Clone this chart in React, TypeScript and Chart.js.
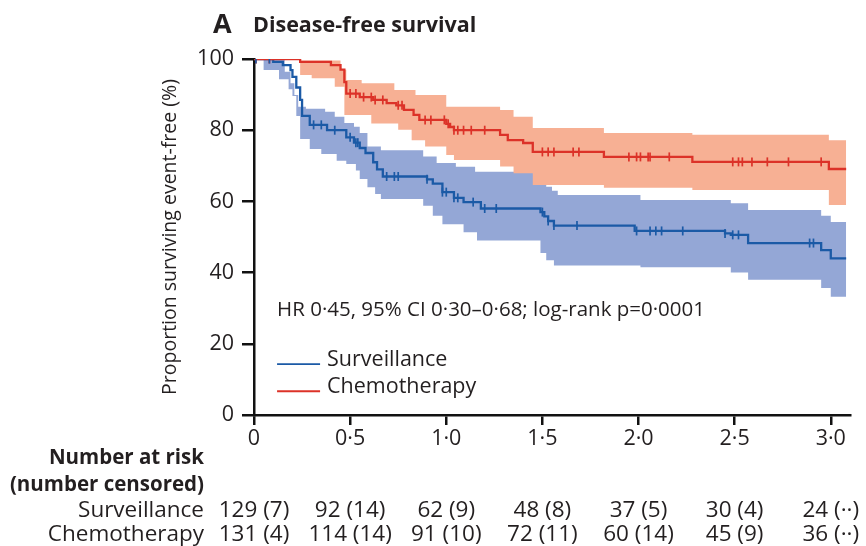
import React, { useEffect, useRef } from 'react';
import { Chart, registerables } from 'chart.js';

Chart.register(...registerables);

const FONT = '"Open Sans", "Noto Sans", sans-serif';
const TEXT = '#231f20';
const AXIS = '#111111';
const BLUE = '#1b5aa6';
const RED = '#dc3228';
const BLUE_BAND = '#94a7d6';
const RED_BAND = '#f7b094';

// Kaplan-Meier step data (time in years, % event-free)
const survTimes = [0, 0.10, 0.15, 0.19, 0.20, 0.22, 0.24, 0.25, 0.29, 0.38, 0.48, 0.52, 0.55, 0.58, 0.62, 0.64, 0.67, 0.90, 0.93, 0.98, 1.04, 1.09, 1.18, 1.49, 1.51, 1.53, 1.56, 1.98, 2.45, 2.48, 2.57, 2.95, 3.00, 3.08];
const survValues = [100, 99.2, 98.3, 96.9, 95.0, 92.0, 88.5, 84.0, 81.5, 80.0, 78.0, 76.5, 75.0, 73.6, 71.0, 69.0, 67.0, 66.2, 65.0, 62.6, 61.0, 59.8, 58.0, 57.0, 55.8, 54.5, 53.2, 51.7, 51.0, 50.6, 48.3, 46.3, 44.0, 44.0];

const chemoTimes = [0, 0.24, 0.40, 0.45, 0.47, 0.48, 0.55, 0.62, 0.69, 0.74, 0.78, 0.83, 0.86, 1.00, 1.02, 1.04, 1.28, 1.32, 1.40, 1.45, 1.82, 2.28, 2.99, 3.08];
const chemoValues = [100, 99.2, 98.3, 97.0, 93.5, 90.3, 89.3, 88.5, 87.6, 87.0, 85.7, 84.3, 82.9, 81.8, 80.9, 80.0, 78.7, 77.2, 76.4, 73.9, 72.5, 71.1, 69.1, 69.1];

// 95% confidence bands
const survUpperTimes = [0, 0.16, 0.19, 0.21, 0.23, 0.27, 0.37, 0.42, 0.47, 0.52, 0.55, 0.59, 0.66, 0.88, 0.95, 1.05, 1.15, 1.47, 1.52, 1.55, 1.58, 2.01, 2.48, 2.57, 2.95, 3.00, 3.08];
const survUpper = [100, 96.4, 93.2, 89.9, 86.6, 86.0, 85.2, 83.8, 82.0, 81.0, 79.2, 75.4, 74.4, 72.6, 70.8, 69.7, 68.3, 66.9, 64.1, 63.0, 61.8, 60.4, 59.5, 57.6, 56.0, 54.2, 54.2];
const survLowerTimes = [0, 0.05, 0.13, 0.18, 0.20, 0.22, 0.24, 0.29, 0.35, 0.43, 0.48, 0.53, 0.55, 0.59, 0.63, 0.66, 0.88, 0.93, 0.98, 1.09, 1.16, 1.49, 1.52, 1.56, 2.01, 2.48, 2.57, 2.95, 3.00, 3.08];
const survLower = [100, 96.9, 94.3, 91.5, 89.6, 84.0, 77.5, 74.7, 73.3, 71.4, 70.5, 68.7, 66.3, 64.0, 62.1, 60.7, 58.8, 56.0, 53.6, 51.3, 49.0, 45.5, 43.5, 42.0, 41.5, 40.0, 38.0, 35.7, 33.2, 33.2];

const chemoUpperTimes = [0, 0.24, 0.45, 0.48, 0.56, 0.73, 0.84, 1.00, 1.28, 1.35, 1.45, 1.82, 2.28, 2.99, 3.08];
const chemoUpper = [100, 99.6, 97.0, 94.1, 93.2, 91.3, 89.9, 86.6, 85.7, 83.8, 80.6, 79.2, 78.7, 77.2, 77.2];
const chemoLowerTimes = [0, 0.24, 0.30, 0.42, 0.47, 0.61, 0.75, 0.82, 0.89, 1.00, 1.04, 1.28, 1.35, 1.45, 1.82, 2.28, 2.99, 3.08];
const chemoLower = [100, 95.5, 94.6, 92.2, 84.3, 81.9, 80.1, 77.2, 75.4, 73.0, 71.6, 69.8, 67.9, 64.6, 63.8, 63.2, 59.0, 59.0];

// censoring times
const survCensor = [0.01, 0.08, 0.31, 0.35, 0.42, 0.50, 0.53, 0.54, 0.69, 0.73, 0.75, 0.90, 0.98, 1.00, 1.04, 1.06, 1.14, 1.20, 1.26, 1.50, 1.53, 1.56, 1.68, 1.99, 2.06, 2.09, 2.12, 2.23, 2.45, 2.49, 2.52, 2.89, 2.91];
const chemoCensor = [0.01, 0.08, 0.50, 0.53, 0.57, 0.61, 0.63, 0.67, 0.75, 0.77, 0.89, 0.92, 0.99, 1.01, 1.04, 1.06, 1.09, 1.13, 1.20, 1.50, 1.53, 1.56, 1.66, 1.69, 1.95, 1.99, 2.01, 2.05, 2.06, 2.16, 2.49, 2.52, 2.54, 2.59, 2.67, 2.78, 2.95];

// axis ticks
const xTickValues = [0, 0.5, 1, 1.5, 2, 2.5, 3];
const xTickLabels = ['0', '0·5', '1·0', '1·5', '2·0', '2·5', '3·0'];
const yTickValues = [0, 20, 40, 60, 80, 100];

// number at risk (number censored)
const survAtRisk = [129, 92, 62, 48, 37, 30, 24];
const survCensored = [7, 14, 9, 8, 5, 4, null];
const chemoAtRisk = [131, 114, 91, 72, 60, 45, 36];
const chemoCensored = [4, 14, 10, 11, 14, 9, null];

const seriesNames = ['Surveillance', 'Chemotherapy'];
const annotation = 'HR 0·45, 95% CI 0·30–0·68; log-rank p=0·0001';

function stepValue(times: number[], values: number[], t: number) {
  let v = values[0];
  for (let i = 0; i < times.length; i++) {
    if (times[i] <= t + 1e-9) v = values[i];
    else break;
  }
  return v;
}
const toPoints = (ts: number[], vs: number[]) => ts.map((t, i) => ({ x: t, y: vs[i] }));
const censorPoints = (cs: number[], ts: number[], vs: number[]) => cs.map((t) => ({ x: t, y: stepValue(ts, vs, t) }));
const riskText = (n: number, c: number | null) => `${n} (${c === null ? '··' : c})`;

const overlayPlugin = {
  id: 'overlay',
  afterDraw(chart: any) {
    const { ctx, scales } = chart;
    const x = scales.x;
    const y = scales.y;
    ctx.save();
    ctx.fillStyle = TEXT;
    ctx.textBaseline = 'middle';
    ctx.textAlign = 'left';
    // panel title
    ctx.font = `bold 27px ${FONT}`;
    ctx.fillText('A', 213, 25);
    ctx.font = `bold 21.5px ${FONT}`;
    ctx.fillText('Disease-free survival', 253, 26);

    // annotation
    const ax = x.getPixelForValue(0.12);
    ctx.font = `20.5px ${FONT}`;
    ctx.fillText(annotation, ax, y.getPixelForValue(29.5));

    // legend
    const legendColors = [BLUE, RED];
    const legendY = [15.4, 7.8];
    seriesNames.forEach((name, i) => {
      const ly = y.getPixelForValue(legendY[i]);
      ctx.strokeStyle = legendColors[i];
      ctx.lineWidth = 1.8;
      ctx.beginPath();
      ctx.moveTo(ax, ly + 4);
      ctx.lineTo(ax + 43, ly + 4);
      ctx.stroke();
      ctx.font = `21.5px ${FONT}`;
      ctx.fillText(name, ax + 50, ly);
    });

    // risk table
    const labelRight = 204;
    ctx.textAlign = 'right';
    ctx.font = `bold 20.5px ${FONT}`;
    ctx.fillText('Number at risk', labelRight, 458);
    ctx.fillText('(number censored)', labelRight, 485);
    ctx.font = `22.5px ${FONT}`;
    ctx.fillText(seriesNames[0], labelRight, 511);
    ctx.fillText(seriesNames[1], labelRight, 535);
    ctx.textAlign = 'center';
    xTickValues.forEach((t, i) => {
      const px = x.getPixelForValue(t);
      ctx.fillText(riskText(survAtRisk[i], survCensored[i]), px, 511);
      ctx.fillText(riskText(chemoAtRisk[i], chemoCensored[i]), px, 535);
    });
    ctx.restore();
  },
};

export default function App() {
  const ref = useRef<HTMLCanvasElement>(null);
  useEffect(() => {
    document.body.style.margin = '0';
    const lineDs = (data: any[], color: string, order: number) => ({
      data,
      stepped: true,
      borderColor: color,
      borderWidth: 2.3,
      pointRadius: 0,
      fill: false,
      order,
    });
    const censorDs = (data: any[], color: string) => ({
      data,
      showLine: false,
      pointStyle: 'line',
      rotation: 90,
      pointRadius: 4.5,
      pointBorderWidth: 1.7,
      pointBorderColor: color,
      pointBackgroundColor: color,
      borderColor: color,
      order: 0,
    });
    const bandDs = (data: any[], color: string, fill: any, order: number) => ({
      data,
      stepped: true,
      borderWidth: 0,
      pointRadius: 0,
      backgroundColor: color,
      fill,
      order,
    });
    const chart = new Chart(ref.current!, {
      type: 'line',
      data: {
        datasets: [
          lineDs(toPoints(survTimes, survValues), BLUE, 2),
          lineDs(toPoints(chemoTimes, chemoValues), RED, 1),
          censorDs(censorPoints(survCensor, survTimes, survValues), BLUE),
          censorDs(censorPoints(chemoCensor, chemoTimes, chemoValues), RED),
          bandDs(toPoints(survUpperTimes, survUpper), BLUE_BAND, '+1', 10),
          bandDs(toPoints(survLowerTimes, survLower), BLUE_BAND, false, 10),
          bandDs(toPoints(chemoUpperTimes, chemoUpper), RED_BAND, '+1', 9),
          bandDs(toPoints(chemoLowerTimes, chemoLower), RED_BAND, false, 9),
        ] as any,
      },
      options: {
        animation: false,
        responsive: true,
        maintainAspectRatio: false,
        events: [],
        layout: { padding: { left: 150, top: 59, right: 16, bottom: 91 } },
        plugins: { legend: { display: false }, tooltip: { enabled: false } },
        scales: {
          x: {
            type: 'linear',
            min: 0,
            max: 3.1,
            afterFit: (s: any) => { s.height = 40; },
            afterBuildTicks: (s: any) => { s.ticks = xTickValues.map((v) => ({ value: v })); },
            ticks: {
              callback: (_v: any, i: number) => xTickLabels[i],
              font: { family: FONT, size: 21.5 },
              color: TEXT,
              padding: 1,
              maxRotation: 0,
            },
            grid: { drawOnChartArea: false, drawTicks: true, tickLength: 10, color: AXIS, lineWidth: 2.5 },
            border: { display: true, color: AXIS, width: 2.5 },
          },
          y: {
            min: 0,
            max: 100,
            afterFit: (s: any) => { s.width = 104; },
            afterBuildTicks: (s: any) => { s.ticks = yTickValues.map((v) => ({ value: v })); },
            ticks: {
              font: { family: FONT, size: 21.5 },
              color: TEXT,
              padding: 8,
            },
            title: {
              display: true,
              text: 'Proportion surviving event-free (%)',
              font: { family: FONT, size: 19.5 },
              color: TEXT,
              padding: { top: 9, bottom: 0 },
            },
            grid: { drawOnChartArea: false, drawTicks: true, tickLength: 12, color: AXIS, lineWidth: 2.5 },
            border: { display: true, color: AXIS, width: 2.5 },
          },
        },
      },
      plugins: [overlayPlugin],
    });
    return () => chart.destroy();
  }, []);
  return (
    <div style={{ width: 866, height: 546, position: 'relative' }}>
      <canvas ref={ref} />
    </div>
  );
}
